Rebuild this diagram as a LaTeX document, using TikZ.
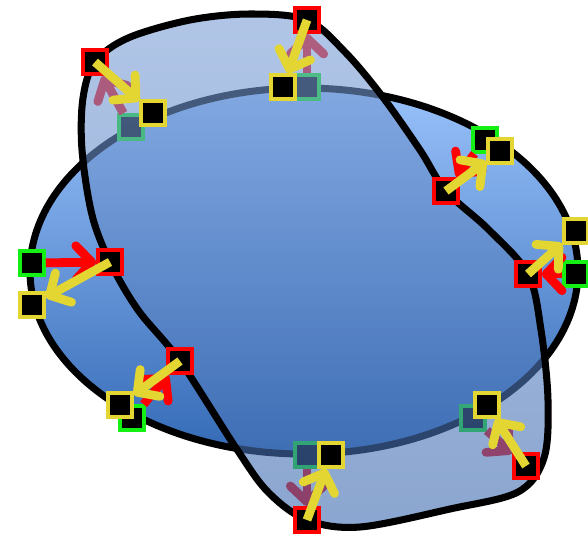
\documentclass[tikz,border=0pt]{standalone}
\usetikzlibrary{arrows.meta}

\definecolor{ellipsetop}{RGB}{152,193,250}
\definecolor{ellipsebot}{RGB}{52,106,182}
\definecolor{blobtop}{RGB}{125,160,215}
\definecolor{blobbot}{RGB}{60,105,175}
\definecolor{redline}{RGB}{255,0,0}
\definecolor{greenline}{RGB}{20,240,20}
\definecolor{yellowline}{RGB}{228,214,50}

\tikzset{
  sq/.style={draw, fill=black, line width=2.2pt, minimum size=13.5pt, inner sep=0pt},
  spot/.style={sq, draw=none, fill=none},
  redsq/.style={sq, draw=redline},
  greensq/.style={sq, draw=greenline},
  yellowsq/.style={sq, draw=yellowline},
  redarrow/.style={draw=redline, line width=5pt, -{Straight Barb[length=9pt,width=19pt,round]}},
  yellowarrow/.style={draw=yellowline, line width=5pt, -{Straight Barb[length=9pt,width=19pt,round]}},
  outline/.style={draw=black, line width=4pt}
}

\begin{document}
\begin{tikzpicture}[x=0.02cm, y=-0.02cm]
    \useasboundingbox (0,0) rectangle (588,538);

    % The flat ellipse
    \shadedraw[outline, top color=ellipsetop, bottom color=ellipsebot]
        (304,271) ellipse [x radius=274, y radius=183];

    % Points on the ellipse (under the blob)
    \node[greensq] (g1) at (131,127) {};
    \node[greensq] (g2) at (307,87) {};
    \node[greensq] (g3) at (485,140) {};
    \node[greensq] (g4) at (32,263) {};
    \node[greensq] (g5) at (576,274) {};
    \node[greensq] (g6) at (132,418) {};
    \node[greensq] (g7) at (307,455) {};
    \node[greensq] (g8) at (473,418) {};

    % Spots on the blob outline
    \node[spot] (p1) at (95,62) {};
    \node[spot] (p2) at (307,20) {};
    \node[spot] (p3) at (446,191) {};
    \node[spot] (p4) at (110,262) {};
    \node[spot] (p5) at (528,274) {};
    \node[spot] (p6) at (180,361) {};
    \node[spot] (p7) at (307,520) {};
    \node[spot] (p8) at (526,466) {};

    \foreach \i in {1,...,8}
        \draw[redarrow] (g\i) -- (p\i);

    % The tall blob, see-through
    \shadedraw[outline, top color=blobtop, bottom color=blobbot, fill opacity=0.6]
        plot[smooth cycle, tension=0.55] coordinates {
            (307,20) (345,52) (382,96) (420,150) (446,191) (488,229)
            (528,274) (541,330) (548,400) (544,458) (518,492) (450,509)
            (360,527) (307,520) (268,492) (236,448) (180,361) (138,310)
            (110,262) (92,215) (82,150) (83,98) (95,62) (128,38)
            (190,20) (250,14)};

    % Points on the blob
    \foreach \i in {1,...,8}
        \node[redsq] (r\i) at (p\i) {};

    % Projected points
    \node[yellowsq] (y1) at (153,113) {};
    \node[yellowsq] (y2) at (283,87) {};
    \node[yellowsq] (y3) at (500,151) {};
    \node[yellowsq] (y4) at (32,305) {};
    \node[yellowsq] (y5) at (576,231) {};
    \node[yellowsq] (y6) at (120,405) {};
    \node[yellowsq] (y7) at (331,455) {};
    \node[yellowsq] (y8) at (487,405) {};

    \foreach \i in {1,...,8}
        \draw[yellowarrow] (r\i.center) -- (y\i);
\end{tikzpicture}
\end{document}
